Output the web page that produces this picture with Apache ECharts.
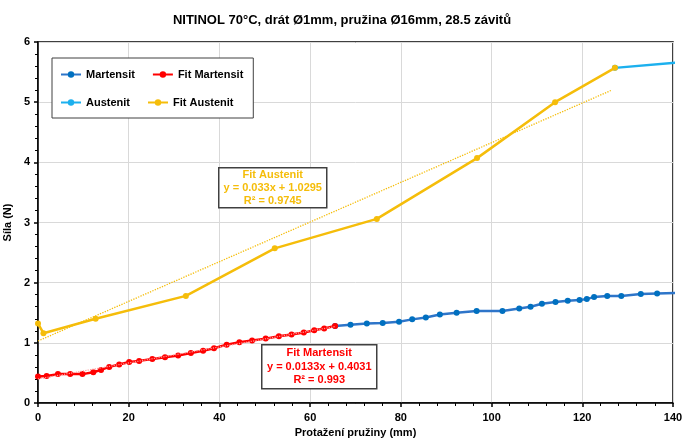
<!DOCTYPE html>
<html>
<head>
<meta charset="utf-8">
<script src="https://cdn.jsdelivr.net/npm/echarts@6/dist/echarts.min.js"></script>
<style>
html, body { margin: 0; padding: 0; background: #fff; }
#chart { width: 684px; height: 440px; }
</style>
</head>
<body>
<div id="chart"></div>
<script>
// barvy
var martensit_color = '#2e75c9';
var austenit_color = '#1cb0ee';
var fitM_color = '#ff0000';
var fitA_color = '#f5bd0a';
var font = 'Liberation Sans, Arial, sans-serif';

// Martensit (mimo rozsah fitu)
var martX = [65.5, 68.9, 72.5, 76.0, 79.6, 82.5, 85.5, 88.6, 92.3, 96.7, 102.4, 106.1, 108.6, 111.1, 114.1, 116.8, 119.4, 121.0, 122.6, 125.5, 128.6, 132.9, 136.5, 141];
var martY = [1.28, 1.30, 1.32, 1.33, 1.35, 1.39, 1.42, 1.47, 1.50, 1.53, 1.53, 1.57, 1.60, 1.65, 1.68, 1.70, 1.71, 1.73, 1.76, 1.78, 1.78, 1.81, 1.82, 1.83];

// Fit Martensit
var fitMX = [0, 1.9, 4.4, 7.1, 9.8, 12.2, 13.9, 15.7, 17.9, 20.1, 22.3, 25.2, 28.0, 30.9, 33.7, 36.4, 38.8, 41.6, 44.4, 47.2, 50.2, 53.1, 55.9, 58.6, 60.9, 63.1, 65.5];
var fitMY = [0.44, 0.45, 0.48, 0.48, 0.48, 0.51, 0.55, 0.60, 0.64, 0.68, 0.70, 0.73, 0.76, 0.79, 0.83, 0.87, 0.91, 0.97, 1.01, 1.04, 1.07, 1.11, 1.14, 1.17, 1.21, 1.24, 1.28];

// Austenit (za poslednim bodem fitu)
var austX = [127.2, 141];
var austY = [5.57, 5.66];

// Fit Austenit
var fitAX = [0, 1.2, 12.7, 32.6, 52.2, 74.7, 96.8, 114.0, 127.2];
var fitAY = [1.32, 1.16, 1.40, 1.78, 2.57, 3.06, 4.07, 5.00, 5.57];

// trendy (koncove body)
var trendMX = [0, 65.5];
var trendMY = [0.40, 1.27];
var trendAX = [0, 126.5];
var trendAY = [1.03, 5.20];

var legendNames = ['Martensit', 'Fit Martensit', 'Austenit', 'Fit Austenit'];

function zip(xs, ys) {
    var out = [];
    for (let i = 0; i < xs.length; i++) out.push([xs[i], ys[i]]);
    return out;
}

var myChart = echarts.init(document.getElementById('chart'), null, { renderer: 'canvas' });

var option = {
    animation: false,
    backgroundColor: '#fff',
    title: {
        text: 'NITINOL 70°C, drát Ø1mm, pružina Ø16mm, 28.5 závitů',
        left: 'center',
        top: 9,
        textStyle: { fontFamily: font, fontSize: 13, fontWeight: 'bold', color: '#000' }
    },
    legend: {
        data: legendNames,
        left: 52,
        top: 58,
        width: 185,
        padding: [11, 10, 10, 8],
        itemGap: 17,
        itemWidth: 20,
        itemHeight: 8,
        borderColor: '#404040',
        borderWidth: 1,
        backgroundColor: '#fff',
        textStyle: { fontFamily: font, fontSize: 11, fontWeight: 'bold', color: '#000', width: 57 }
    },
    grid: {
        left: 38,
        right: 11,
        top: 42,
        bottom: 37,
        outerBoundsMode: 'none',
        show: true,
        borderColor: '#000',
        borderWidth: 1.5
    },
    xAxis: {
        type: 'value',
        min: 0,
        max: 140,
        interval: 20,
        name: 'Protažení pružiny (mm)',
        nameLocation: 'middle',
        nameGap: 24,
        nameTextStyle: { fontFamily: font, fontSize: 11, fontWeight: 'bold', color: '#000' },
        axisLine: { lineStyle: { color: '#000', width: 1.5 } },
        axisTick: { length: 4, lineStyle: { color: '#000', width: 1.5 } },
        minorTick: { show: true, splitNumber: 5, length: 3, lineStyle: { color: '#000' } },
        axisLabel: { fontFamily: font, fontSize: 11, fontWeight: 'bold', color: '#000', margin: 9 },
        splitLine: { lineStyle: { color: '#d9d9d9', width: 1 } }
    },
    yAxis: {
        type: 'value',
        min: 0,
        max: 6,
        interval: 1,
        name: 'Síla (N)',
        nameLocation: 'middle',
        nameGap: 20,
        nameTextStyle: { fontFamily: font, fontSize: 11, fontWeight: 'bold', color: '#000' },
        axisLine: { show: true, lineStyle: { color: '#000', width: 1.5 } },
        axisTick: { show: true, length: 4, lineStyle: { color: '#000', width: 1.5 } },
        minorTick: { show: true, splitNumber: 5, length: 3, lineStyle: { color: '#000' } },
        axisLabel: { fontFamily: font, fontSize: 11, fontWeight: 'bold', color: '#000', margin: 8 },
        splitLine: { lineStyle: { color: '#d9d9d9', width: 1 } }
    },
    series: [
        {
            name: 'Martensit',
            type: 'line',
            data: zip(martX, martY),
            symbol: 'circle',
            symbolSize: 6,
            clip: true,
            itemStyle: { color: '#0070c0' },
            lineStyle: { color: martensit_color, width: 2.5 },
            z: 2
        },
        {
            name: 'Fit Martensit',
            type: 'line',
            data: zip(fitMX, fitMY),
            symbol: 'circle',
            symbolSize: 6,
            itemStyle: { color: fitM_color },
            lineStyle: { color: fitM_color, width: 2.5 },
            z: 3
        },
        {
            name: 'Austenit',
            type: 'line',
            data: zip(austX, austY),
            symbol: 'circle',
            symbolSize: 6,
            clip: true,
            itemStyle: { color: austenit_color },
            lineStyle: { color: austenit_color, width: 2.5 },
            z: 2
        },
        {
            name: 'Fit Austenit',
            type: 'line',
            data: zip(fitAX, fitAY),
            symbol: 'circle',
            symbolSize: 6,
            itemStyle: { color: fitA_color },
            lineStyle: { color: fitA_color, width: 2.5 },
            z: 3
        },
        {
            name: 'trend M',
            type: 'line',
            data: zip(trendMX, trendMY),
            symbol: 'none',
            lineStyle: { color: '#ff9a9a', width: 1.2, type: 'dotted' },
            z: 4
        },
        {
            name: 'trend A',
            type: 'line',
            data: zip(trendAX, trendAY),
            symbol: 'none',
            lineStyle: { color: fitA_color, width: 1.3, type: 'dotted' },
            z: 4
        }
    ],
    graphic: [
        {
            type: 'group',
            left: 218,
            top: 167,
            z: 100,
            children: [
                { type: 'rect', z: 100, shape: { x: 0, y: 0, width: 108, height: 40 }, style: { fill: '#fff', stroke: '#404040', lineWidth: 1.5 } },
                { type: 'text', z: 101, x: 54, y: 20, style: { text: 'Fit Austenit\ny = 0.033x + 1.0295\nR² = 0.9745', align: 'center', verticalAlign: 'middle', lineHeight: 13, fill: fitA_color, font: 'bold 11px ' + font } }
            ]
        },
        {
            type: 'group',
            left: 261,
            top: 344,
            z: 100,
            children: [
                { type: 'rect', z: 100, shape: { x: 0, y: 0, width: 115, height: 44 }, style: { fill: '#fff', stroke: '#404040', lineWidth: 1.5 } },
                { type: 'text', z: 101, x: 57.5, y: 22, style: { text: 'Fit Martensit\ny = 0.0133x + 0.4031\nR² = 0.993', align: 'center', verticalAlign: 'middle', lineHeight: 13.5, fill: fitM_color, font: 'bold 11px ' + font } }
            ]
        }
    ]
};

myChart.setOption(option);
</script>
</body>
</html>
